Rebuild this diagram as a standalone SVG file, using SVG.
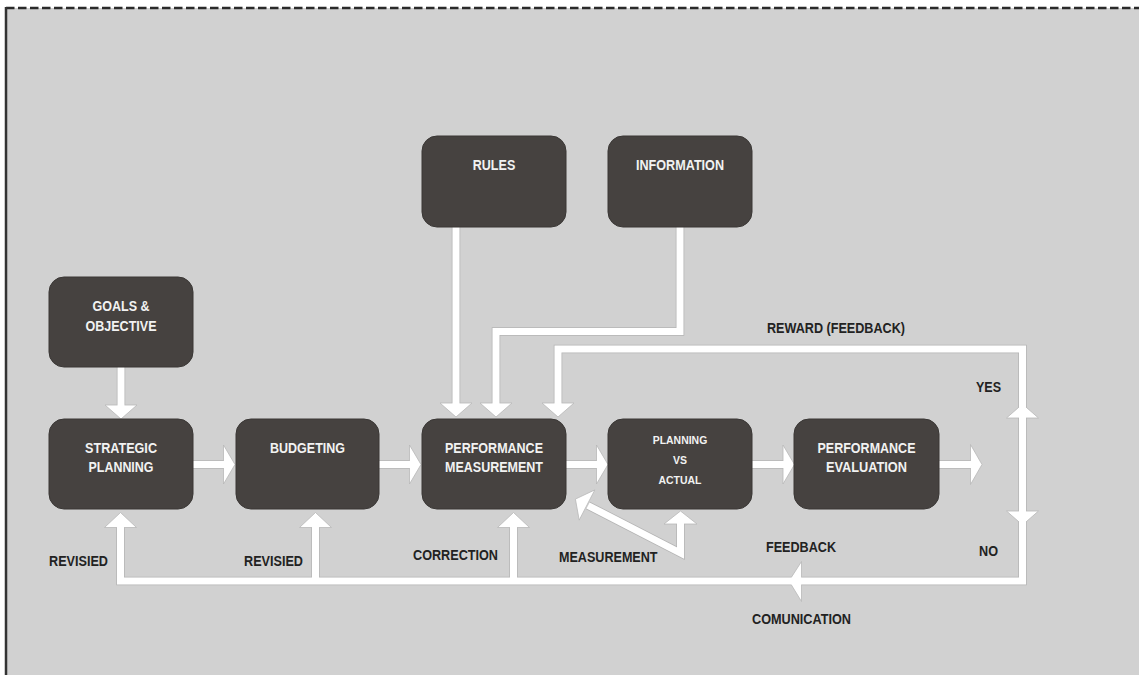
<svg xmlns="http://www.w3.org/2000/svg" xmlns:xlink="http://www.w3.org/1999/xlink" width="1139" height="675" viewBox="0 0 1139 675">
<style>
.box{fill:#464240;stroke:#3a3735;stroke-width:1}
.bt{font-family:"Liberation Sans",Arial,sans-serif;font-weight:bold;font-size:14px;fill:#f2f2f2;text-anchor:middle}
.bs{font-size:11.5px}
.lb{font-family:"Liberation Sans",Arial,sans-serif;font-weight:bold;font-size:14px;fill:#222}
.sh{fill:none;stroke-linejoin:miter;stroke-miterlimit:10;stroke-linecap:butt}
.ol{stroke:#b4b4b4;stroke-width:8.5}
.wl{stroke:#fff;stroke-width:7}
.hd{fill:#fff;stroke:#b8b8b8;stroke-width:0.8;stroke-linejoin:miter}
</style>
<defs>
<path id="p-goals" d="M121,367 V406"/>
<path id="p-rules" d="M456,227 V404"/>
<path id="p-info" d="M680,227 V331.5 H496 V404"/>
<path id="p-loop" d="M558,404 V349 H1022.5 V581 H120.5 V526"/>
<path id="p-budrev" d="M315.5,581 V526"/>
<path id="p-corr" d="M513.5,581 V526"/>
<path id="p-meas" d="M680.5,523 V553 L588,505.5"/>
<path id="p-h1" d="M193,464.5 H224.5"/>
<path id="p-h2" d="M379,464.5 H410.5"/>
<path id="p-h3" d="M566,464.5 H597.5"/>
<path id="p-h4" d="M752,464.5 H784"/>
<path id="p-h5" d="M939,464.5 H971.5"/>
</defs>
<rect x="0" y="0" width="1139" height="675" fill="#ffffff"/>
<rect x="6" y="8" width="1133" height="667" fill="#d1d1d1"/>
<line x1="6" y1="8" x2="1139" y2="8" stroke="#2a2a2a" stroke-width="2.5" stroke-dasharray="8.5 3.5"/>
<line x1="6" y1="7" x2="6" y2="675" stroke="#333" stroke-width="2.5"/>

<g id="connectors">
  <g class="sh ol">
    <use xlink:href="#p-goals"/><use xlink:href="#p-rules"/><use xlink:href="#p-info"/><use xlink:href="#p-loop"/>
    <use xlink:href="#p-budrev"/><use xlink:href="#p-corr"/><use xlink:href="#p-meas"/>
    <use xlink:href="#p-h1"/><use xlink:href="#p-h2"/><use xlink:href="#p-h3"/><use xlink:href="#p-h4"/><use xlink:href="#p-h5"/>
  </g>
  <g class="hd">
    <polygon points="105,405 137,405 121,419"/>
    <polygon points="440,403 472,403 456,417"/>
    <polygon points="480,403 512,403 496,417"/>
    <polygon points="542,403 574,403 558,417"/>
    <polygon points="104.5,527.5 136.5,527.5 120.5,512.5"/>
    <polygon points="299.5,527.5 331.5,527.5 315.5,512.5"/>
    <polygon points="497.5,527.5 529.5,527.5 513.5,512.5"/>
    <polygon points="664,524 697,524 680.5,511"/>
    <polygon points="1006.5,418 1038.5,418 1022.5,404"/>
    <polygon points="1006.5,511 1038.5,511 1022.5,525"/>
    <polygon points="223.5,445 223.5,484 235,464.5"/>
    <polygon points="409.5,445 409.5,484 421,464.5"/>
    <polygon points="596.5,445 596.5,484 608,464.5"/>
    <polygon points="783,445 783,484 794.5,464.5"/>
    <polygon points="970.5,444.5 970.5,484.5 982,464.5"/>
    <polygon points="801.5,561.5 801.5,601.5 789,581"/>
    <polygon points="594.8,489.9 579.2,520.1 575.4,499.1"/>
  </g>
  <g class="sh wl">
    <use xlink:href="#p-goals"/><use xlink:href="#p-rules"/><use xlink:href="#p-info"/><use xlink:href="#p-loop"/>
    <use xlink:href="#p-budrev"/><use xlink:href="#p-corr"/><use xlink:href="#p-meas"/>
    <use xlink:href="#p-h1"/><use xlink:href="#p-h2"/><use xlink:href="#p-h3"/><use xlink:href="#p-h4"/><use xlink:href="#p-h5"/>
  </g>
</g>

<g id="n-goals"><rect class="box" x="49" y="277" width="144" height="90" rx="15"/><text class="bt" x="121" y="311" textLength="57" lengthAdjust="spacingAndGlyphs">GOALS &amp;</text><text class="bt" x="121" y="331" textLength="71" lengthAdjust="spacingAndGlyphs">OBJECTIVE</text></g>
<g id="n-strategic"><rect class="box" x="49" y="419" width="144" height="90" rx="15"/><text class="bt" x="121" y="452.5" textLength="72" lengthAdjust="spacingAndGlyphs">STRATEGIC</text><text class="bt" x="121" y="472" textLength="65" lengthAdjust="spacingAndGlyphs">PLANNING</text></g>
<g id="n-budgeting"><rect class="box" x="236" y="419" width="143" height="90" rx="15"/><text class="bt" x="307.5" y="452.5" textLength="75" lengthAdjust="spacingAndGlyphs">BUDGETING</text></g>
<g id="n-rules"><rect class="box" x="422" y="136" width="144" height="91" rx="15"/><text class="bt" x="494" y="170" textLength="42.5" lengthAdjust="spacingAndGlyphs">RULES</text></g>
<g id="n-information"><rect class="box" x="608" y="136" width="144" height="91" rx="15"/><text class="bt" x="680" y="170" textLength="88" lengthAdjust="spacingAndGlyphs">INFORMATION</text></g>
<g id="n-perfmeas"><rect class="box" x="422" y="419" width="144" height="90" rx="15"/><text class="bt" x="494" y="452.5" textLength="98" lengthAdjust="spacingAndGlyphs">PERFORMANCE</text><text class="bt" x="494" y="472" textLength="98" lengthAdjust="spacingAndGlyphs">MEASUREMENT</text></g>
<g id="n-pva"><rect class="box" x="608" y="419" width="144" height="90" rx="15"/><text class="bt bs" x="680" y="443.5" textLength="54.5" lengthAdjust="spacingAndGlyphs">PLANNING</text><text class="bt bs" x="680" y="463.5" textLength="14" lengthAdjust="spacingAndGlyphs">VS</text><text class="bt bs" x="680" y="483.5" textLength="43" lengthAdjust="spacingAndGlyphs">ACTUAL</text></g>
<g id="n-perfeval"><rect class="box" x="794" y="419" width="145" height="90" rx="15"/><text class="bt" x="866.5" y="452.5" textLength="98" lengthAdjust="spacingAndGlyphs">PERFORMANCE</text><text class="bt" x="866.5" y="472" textLength="81" lengthAdjust="spacingAndGlyphs">EVALUATION</text></g>

<g id="labels">
  <text class="lb" x="767" y="333" textLength="138" lengthAdjust="spacingAndGlyphs">REWARD (FEEDBACK)</text>
  <text class="lb" x="976" y="392" textLength="25" lengthAdjust="spacingAndGlyphs">YES</text>
  <text class="lb" x="979" y="556" textLength="19" lengthAdjust="spacingAndGlyphs">NO</text>
  <text class="lb" x="49" y="566" textLength="59" lengthAdjust="spacingAndGlyphs">REVISIED</text>
  <text class="lb" x="244" y="566" textLength="59" lengthAdjust="spacingAndGlyphs">REVISIED</text>
  <text class="lb" x="413" y="560" textLength="85" lengthAdjust="spacingAndGlyphs">CORRECTION</text>
  <text class="lb" x="559" y="562" textLength="98.5" lengthAdjust="spacingAndGlyphs">MEASUREMENT</text>
  <text class="lb" x="766" y="552" textLength="70" lengthAdjust="spacingAndGlyphs">FEEDBACK</text>
  <text class="lb" x="752" y="624" textLength="99" lengthAdjust="spacingAndGlyphs">COMUNICATION</text>
</g>
</svg>
